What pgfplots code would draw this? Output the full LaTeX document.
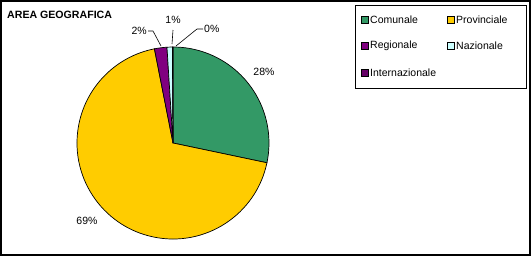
\documentclass[border=0pt]{standalone}
\usepackage{pgfplots}
\pgfplotsset{compat=1.18}
\usepackage{fontspec}
\setmainfont{Liberation Sans}
\definecolor{cCom}{HTML}{339966}
\definecolor{cProv}{HTML}{FFCC00}
\definecolor{cReg}{HTML}{800080}
\definecolor{cNaz}{HTML}{CCFFFF}
\definecolor{cInt}{HTML}{660066}
% data (percent)
\def\vCom{28.3}
\def\vProv{68.6}
\def\vReg{2.1}
\def\vNaz{0.9}
\def\vInt{0.1}
\begin{document}
\begin{tikzpicture}
\pgfmathsetmacro\aA{90}
\pgfmathsetmacro\aB{\aA-\vCom*3.6}
\pgfmathsetmacro\aC{\aB-\vProv*3.6}
\pgfmathsetmacro\aD{\aC-\vReg*3.6}
\pgfmathsetmacro\aE{\aD-\vNaz*3.6}
\pgfmathsetmacro\aF{\aE-\vInt*3.6}
\begin{axis}[x=1bp,y=1bp,xmin=0,xmax=531,ymin=0,ymax=256,hide axis,clip=false,
  anchor=origin, at={(0,0)}, scale only axis]
\addplot[draw=none] coordinates {(0,0) (531,256)};
% frame
\draw[line width=2bp] (axis cs:1,1) rectangle (axis cs:530,255);
% pie
\filldraw[fill=cCom, draw=black, line width=0.7bp] (axis cs:173,113) -- ++(\aA:96bp) arc[start angle=\aA, end angle=\aB, radius=96bp] -- cycle;
\filldraw[fill=cProv, draw=black, line width=0.7bp] (axis cs:173,113) -- ++(\aB:96bp) arc[start angle=\aB, end angle=\aC, radius=96bp] -- cycle;
\filldraw[fill=cReg, draw=black, line width=0.7bp] (axis cs:173,113) -- ++(\aC:96bp) arc[start angle=\aC, end angle=\aD, radius=96bp] -- cycle;
\filldraw[fill=cNaz, draw=black, line width=0.7bp] (axis cs:173,113) -- ++(\aD:96bp) arc[start angle=\aD, end angle=\aE, radius=96bp] -- cycle;
\filldraw[fill=cInt, draw=black, line width=0.7bp] (axis cs:173,113) -- ++(\aE:96bp) arc[start angle=\aE, end angle=\aF, radius=96bp] -- cycle;
% title
\node[anchor=west, font=\fontsize{10.6bp}{12bp}\selectfont\bfseries, inner sep=0] at (axis cs:7,241) {AREA GEOGRAFICA};
% labels
\begin{scope}[font=\fontsize{10.5bp}{12bp}\selectfont]
\node at (axis cs:264,184) {28\%};
\node at (axis cs:87,35) {69\%};
\node[anchor=east, inner sep=1bp] at (axis cs:148,225) {2\%};
\draw[line width=0.6bp] (axis cs:148,225) -- (axis cs:153,225) -- (axis cs:161,210);
\node at (axis cs:173,236) {1\%};
\draw[line width=0.6bp] (axis cs:173,226) -- (axis cs:172,212);
\node[anchor=west, inner sep=1bp] at (axis cs:203,227) {0\%};
\draw[line width=0.6bp] (axis cs:203,227) -- (axis cs:197,227) -- (axis cs:176,210);
% legend
\draw[line width=0.8bp] (axis cs:355,251) rectangle (axis cs:526,168);
\filldraw[fill=cCom, draw=black, line width=0.6bp] (axis cs:361,233) rectangle (axis cs:368,240);
\node[anchor=west, inner sep=0] at (axis cs:370,236.5) {Comunale};
\filldraw[fill=cProv, draw=black, line width=0.6bp] (axis cs:447,233) rectangle (axis cs:454,240);
\node[anchor=west, inner sep=0] at (axis cs:456,236.5) {Provinciale};
\filldraw[fill=cReg, draw=black, line width=0.6bp] (axis cs:361,207) rectangle (axis cs:368,214);
\node[anchor=west, inner sep=0] at (axis cs:370,210.5) {Regionale};
\filldraw[fill=cNaz, draw=black, line width=0.6bp] (axis cs:447,207) rectangle (axis cs:454,214);
\node[anchor=west, inner sep=0] at (axis cs:456,210.5) {Nazionale};
\filldraw[fill=cInt, draw=black, line width=0.6bp] (axis cs:361,180) rectangle (axis cs:368,187);
\node[anchor=west, inner sep=0] at (axis cs:370,183.5) {Internazionale};
\end{scope}
\end{axis}
\end{tikzpicture}
\end{document}
